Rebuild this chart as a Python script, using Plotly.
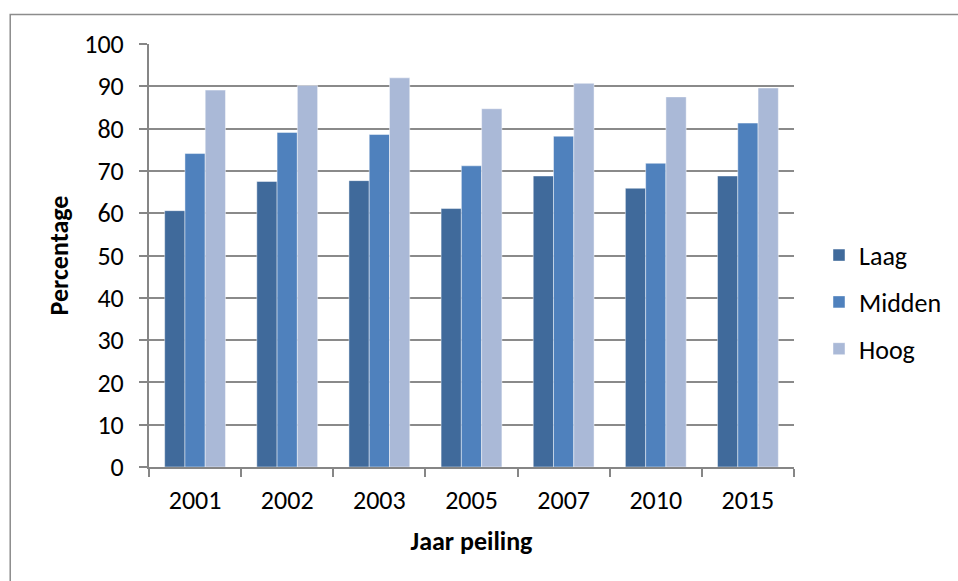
import plotly.graph_objects as go

years = ["2001", "2002", "2003", "2005", "2007", "2010", "2015"]
laag = [60.6, 67.5, 67.7, 61.1, 68.8, 65.9, 68.8]
midden = [74.1, 79.1, 78.6, 71.2, 78.2, 71.8, 81.3]
hoog = [89.1, 90.2, 92.0, 84.7, 90.7, 87.5, 89.6]

series = [("Laag", laag, "#406A9B"), ("Midden", midden, "#4F81BD"), ("Hoog", hoog, "#AAB9D7")]

FONT = "Carlito, Calibri, Lato, sans-serif"
FS = 26

W, H = 958, 581
L, R, T, B = 149, 795, 44, 466.7

fig = go.Figure()
for name, vals, col in series:
    fig.add_trace(go.Bar(
        x=years, y=vals, name=name, legendgroup=name,
        marker=dict(color=col, line=dict(color="rgba(255,255,255,0.45)", width=1)),
    ))

def px_x(p):
    return (p - L) / (R - L)

def px_y(p):
    return (B - p) / (B - T)

bx0, bx1 = px_x(10), px_x(1100)
by0, by1 = px_y(700), px_y(14.5)
border_path = f"M {bx0},{by0} L {bx0},{by1} L {bx1},{by1}"

fig.update_layout(
    width=W, height=H,
    margin=dict(l=L, r=W - R, t=T, b=H - B, pad=0),
    paper_bgcolor="white", plot_bgcolor="white",
    barmode="group", bargap=0.34, bargroupgap=0,
    font=dict(family=FONT, size=FS, color="black"),
    showlegend=True,
    legend=dict(x=px_x(819), xanchor="left", y=px_y(302), yanchor="middle",
                font=dict(family=FONT, size=FS), traceorder="grouped",
                tracegroupgap=10, bgcolor="rgba(0,0,0,0)"),
    xaxis=dict(type="category", showline=True, linecolor="#868686", linewidth=2,
               ticks="outside", tickson="boundaries", ticklen=8, tickwidth=2,
               tickcolor="#868686", showgrid=False, ticklabelstandoff=9,
               tickfont=dict(family=FONT, size=FS),
               title=dict(text="<b>Jaar peiling</b>", font=dict(family=FONT, size=FS), standoff=17)),
    yaxis=dict(range=[0, 100], dtick=10, showline=True, linecolor="#868686", linewidth=2,
               ticks="outside", ticklen=8, tickwidth=2, tickcolor="#868686",
               showgrid=True, gridcolor="#8A8A8A", gridwidth=2, zeroline=False,
               ticklabelstandoff=10, tickfont=dict(family=FONT, size=FS),
               title=dict(text="<b>Percentage</b>", font=dict(family=FONT, size=FS), standoff=8)),
    shapes=[dict(type="path", xref="paper", yref="paper", path=border_path,
                 line=dict(color="#8C8C8C", width=1.5), layer="below")],
)

fig.write_html(
    "out.html",
    config={"displayModeBar": False},
    post_script="document.body.style.margin='0';document.body.style.padding='0';"
                "document.body.style.overflow='hidden';"
                "document.documentElement.style.overflow='hidden';",
)
